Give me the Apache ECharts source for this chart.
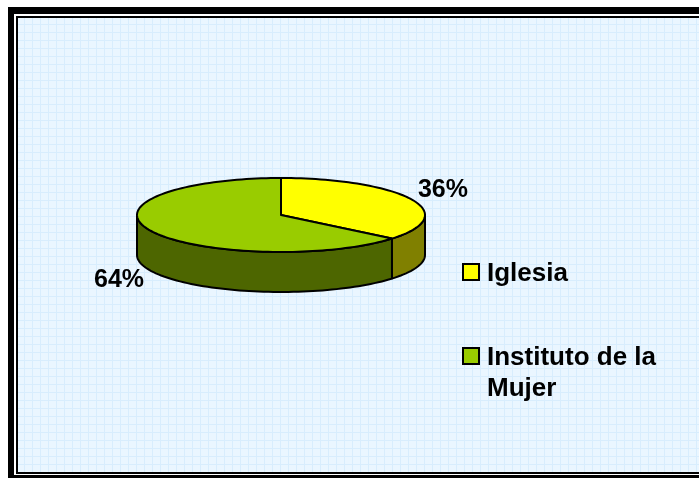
<!DOCTYPE html>
<html>
<head>
<meta charset="utf-8">
<script src="https://cdn.jsdelivr.net/npm/echarts@6/dist/echarts.min.js"></script>
<style>
  html, body { margin: 0; padding: 0; background: #fff; }
  #chart { width: 699px; height: 478px; }
</style>
</head>
<body>
<div id="chart"></div>
<script>
// data
const categories = ['Iglesia', 'Instituto de la Mujer'];
const legendLabels = ['Iglesia', 'Instituto de la\nMujer'];
const values = [36, 64];
const topColors = ['#FFFF00', '#99CC00'];
const sideColors = ['#808000', '#4D6600'];

const total = values.reduce((a, b) => a + b, 0);
const starts = [];
let acc = 0;
values.forEach(v => { starts.push(acc / total * 360); acc += v; });

// 3d pie geometry (angles clockwise from 12 o'clock)
const pie = { cx: 281, cy: 215, rx: 144, ry: 37, depth: 40 };

function pt(t, dy) {
  const r = t * Math.PI / 180;
  return [pie.cx + pie.rx * Math.sin(r), pie.cy - pie.ry * Math.cos(r) + (dy || 0)];
}
function arc(a1, a2, dy) {
  const pts = [];
  const n = Math.max(2, Math.ceil((a2 - a1) / 2));
  for (let i = 0; i <= n; i++) pts.push(pt(a1 + (a2 - a1) * i / n, dy));
  return pts;
}

// light blue grid paper
const tile = document.createElement('canvas');
tile.width = 8; tile.height = 8;
const g = tile.getContext('2d');
g.fillStyle = '#EAF6FF';
g.fillRect(0, 0, 8, 8);
g.fillStyle = '#D8EDFD';
g.fillRect(0, 0, 8, 1);
g.fillRect(0, 0, 1, 8);

function renderSlice(params, api) {
  const idx = params.dataIndex;
  const a1 = starts[idx];
  const a2 = a1 + api.value(0) / total * 360;
  const children = [];
  const s1 = Math.max(a1, 90), s2 = Math.min(a2, 270);
  if (s1 < s2) {
    children.push({
      type: 'polygon',
      z2: 1,
      shape: { points: arc(s1, s2, 0).concat(arc(s1, s2, pie.depth).reverse()) },
      style: { fill: sideColors[idx], stroke: '#000', lineWidth: 2, lineJoin: 'round' }
    });
  }
  children.push({
    type: 'polygon',
    z2: 10,
    shape: { points: [[pie.cx, pie.cy]].concat(arc(a1, a2, 0)) },
    style: { fill: topColors[idx], stroke: '#000', lineWidth: 2, lineJoin: 'round' }
  });
  const mid = (a1 + a2) / 2 * Math.PI / 180;
  const lx = pie.cx + (pie.rx + 35) * Math.sin(mid);
  const ly = pie.cy - (pie.ry + 22) * Math.cos(mid) + (Math.cos(mid) < 0 ? pie.depth : 0);
  children.push({
    type: 'text',
    z2: 20,
    style: {
      x: lx, y: ly,
      text: Math.round(api.value(0) / total * 100) + '%',
      align: 'center', verticalAlign: 'middle',
      fill: '#000',
      font: 'bold 25px "Liberation Sans", Arial, sans-serif'
    }
  });
  return { type: 'group', children: children };
}

const legendItems = [];
legendLabels.forEach((name, i) => {
  const top = i === 0 ? 258 : 342;
  legendItems.push({
    type: 'rect',
    z: 50,
    shape: { x: 463, y: top + 6, width: 16, height: 16 },
    style: { fill: topColors[i], stroke: '#000', lineWidth: 2 }
  });
  legendItems.push({
    type: 'text',
    z: 50,
    style: {
      x: 487, y: top,
      text: name,
      fill: '#000',
      font: 'bold 26px "Liberation Sans", Arial, sans-serif',
      lineHeight: 31,
      verticalAlign: 'top'
    }
  });
});

const chart = echarts.init(document.getElementById('chart'));
chart.setOption({
  animation: false,
  backgroundColor: '#fff',
  graphic: [
    { type: 'rect', z: -10, shape: { x: 8, y: 7, width: 720, height: 500 }, style: { fill: '#000' } },
    { type: 'rect', z: -9, shape: { x: 14, y: 14, width: 720, height: 461 }, style: { fill: '#fff' } },
    { type: 'rect', z: -8, shape: { x: 16, y: 16, width: 720, height: 458 }, style: { fill: '#000' } },
    { type: 'rect', z: -7, shape: { x: 18, y: 18, width: 720, height: 454 }, style: { fill: { image: tile, repeat: 'repeat' } } }
  ].concat(legendItems),
  series: [
    {
      type: 'custom',
      name: 'Organizaciones',
      coordinateSystem: 'none',
      silent: true,
      data: values.map((v, i) => ({ name: categories[i], value: [v] })),
      renderItem: renderSlice
    }
  ]
});
</script>
</body>
</html>
